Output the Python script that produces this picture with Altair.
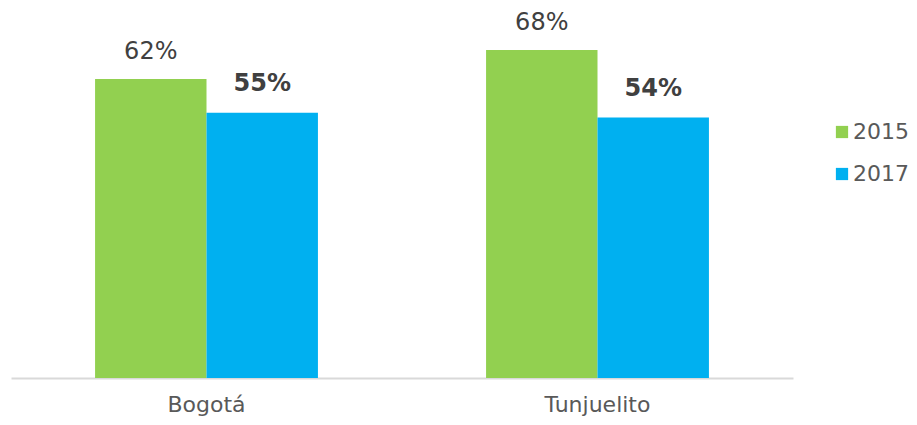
import altair as alt
import pandas as pd

categories = ["Bogotá", "Bogotá", "Tunjuelito", "Tunjuelito"]
years = ["2015", "2017", "2015", "2017"]
values = [62, 55, 68, 54]
labels = ["62%", "55%", "68%", "54%"]

df = pd.DataFrame({"cat": categories, "year": years, "value": values, "label": labels})

FONT = "DejaVu Sans"
colors = ["#92D050", "#00B0F0"]

xenc = alt.X("cat:N", sort=["Bogotá", "Tunjuelito"],
             scale=alt.Scale(paddingInner=0.43, paddingOuter=0.215),
             axis=alt.Axis(title=None, labelAngle=0, labelFontSize=22, labelColor="#595959",
                           labelFont=FONT, ticks=False, domainColor="#D9D9D9", domainWidth=2,
                           labelPadding=16, grid=False))
yenc = alt.Y("value:Q", scale=alt.Scale(domain=[0, 76.7], nice=False), axis=None)

base = alt.Chart(df).encode(x=xenc, xOffset=alt.XOffset("year:N"))

bars = base.mark_bar().encode(
    y=yenc,
    color=alt.Color("year:N", scale=alt.Scale(domain=["2015", "2017"], range=colors),
                    legend=alt.Legend(title=None, orient="none", legendX=820, legendY=113,
                                      symbolType="square", symbolSize=150, symbolStrokeWidth=0,
                                      labelFontSize=22, labelFont=FONT, labelColor="#595959",
                                      rowPadding=20, labelOffset=0, padding=0)),
)

t2015 = base.transform_filter(alt.datum.year == "2015").mark_text(
    baseline="bottom", dy=-15, fontSize=24, font=FONT, color="#404040"
).encode(y=yenc, text="label:N")

t2017 = base.transform_filter(alt.datum.year == "2017").mark_text(
    baseline="bottom", dy=-17, fontSize=24, font=FONT, fontWeight="bold", color="#404040"
).encode(y=yenc, text="label:N")

chart = alt.layer(bars, t2015, t2017).properties(
    width=782, height=370,
    padding={"left": 3, "top": 0, "right": 116, "bottom": 39},
    autosize=alt.AutoSizeParams(type="none"),
    background="white",
).configure_view(strokeWidth=0, stroke="transparent")

chart.save("out.html", embed_options={"renderer": "svg", "actions": False})
